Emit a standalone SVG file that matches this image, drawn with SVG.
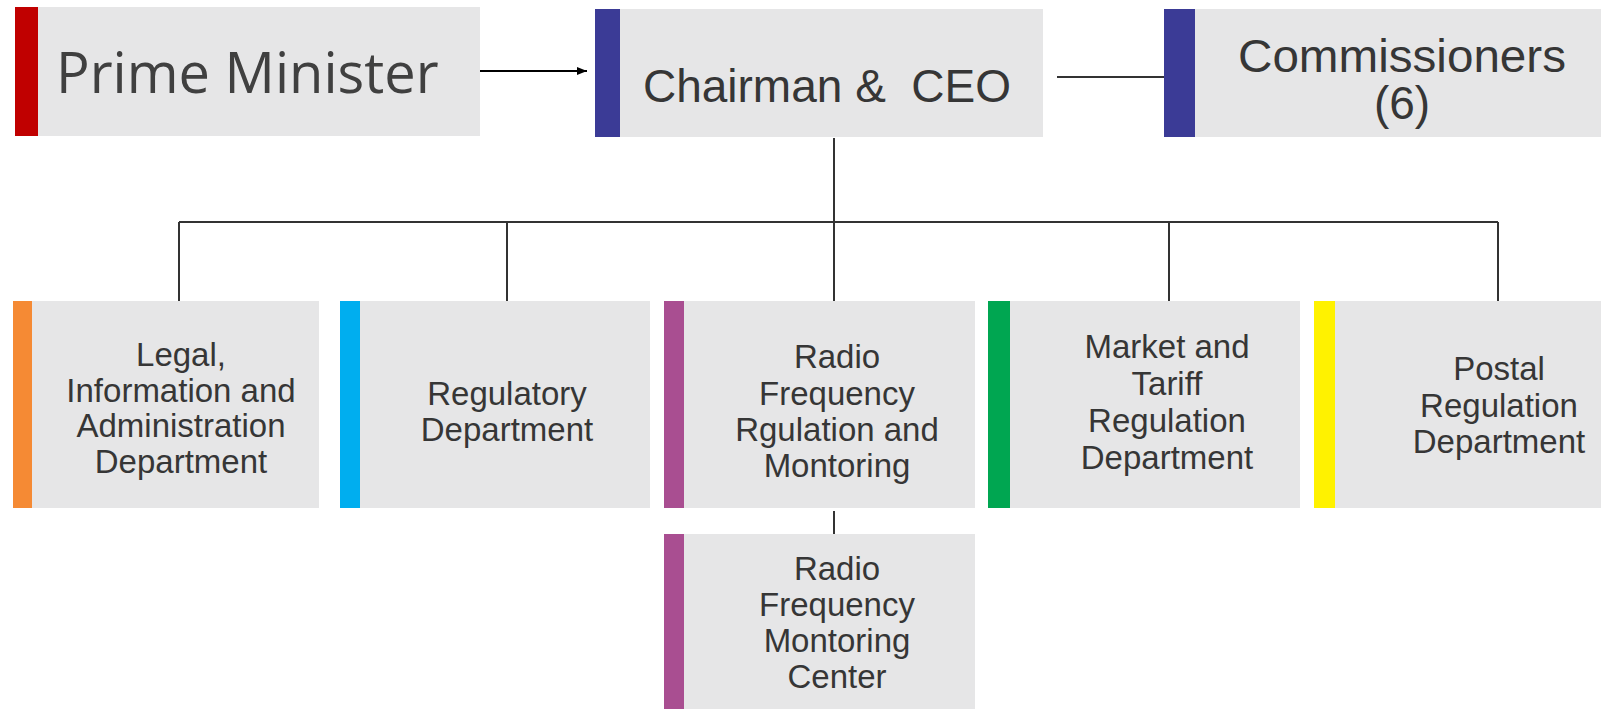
<svg xmlns="http://www.w3.org/2000/svg" width="1601" height="709" viewBox="0 0 1601 709">
<style>
.box{fill:#e6e6e7}
.t{font-family:"Liberation Sans",Arial,sans-serif;font-size:33px;fill:#363636;text-anchor:middle}
.big{font-family:"Liberation Sans",Arial,sans-serif;font-size:46px;fill:#363636;text-anchor:middle}
.ln{stroke:#333;stroke-width:2;fill:none}
</style>
<defs>
<marker id="ah" viewBox="0 0 10 10" refX="10" refY="5" markerWidth="10" markerHeight="10" markerUnits="userSpaceOnUse" orient="auto">
<path d="M0,1 L10,5 L0,9 Z" fill="#000"/>
</marker>
</defs>
<rect width="1601" height="709" fill="#fff"/>
<g id="connectors">
<line x1="480" y1="71" x2="587" y2="71" stroke="#000" stroke-width="2" marker-end="url(#ah)"/>
<line class="ln" x1="1057" y1="77" x2="1164" y2="77"/>
<line class="ln" x1="834" y1="138" x2="834" y2="301"/>
<line class="ln" x1="179" y1="222" x2="1498" y2="222"/>
<line class="ln" x1="179" y1="222" x2="179" y2="301"/>
<line class="ln" x1="507" y1="222" x2="507" y2="301"/>
<line class="ln" x1="1169" y1="222" x2="1169" y2="301"/>
<line class="ln" x1="1498" y1="222" x2="1498" y2="301"/>
<line class="ln" x1="834" y1="511" x2="834" y2="534"/>
</g>
<g id="prime-minister">
<rect class="box" x="15" y="7" width="465" height="129"/>
<rect x="15" y="7" width="23" height="129" fill="#c00000"/>
<text x="56" y="93" font-family="'Open Sans',sans-serif" font-size="56" fill="#404040">Prime Minister</text>
</g>
<g id="chairman">
<rect class="box" x="595" y="9" width="448" height="128"/>
<rect x="595" y="9" width="25" height="128" fill="#3b3b96"/>
<text class="big" x="827" y="102" xml:space="preserve">Chairman &amp;  CEO</text>
</g>
<g id="commissioners">
<rect class="box" x="1164" y="9" width="437" height="128"/>
<rect x="1164" y="9" width="31" height="128" fill="#3b3b96"/>
<text class="big" x="1402" y="72" font-size="38" textLength="328" lengthAdjust="spacingAndGlyphs">Commissioners</text>
<text class="big" x="1402" y="119" font-size="38">(6)</text>
</g>
<g id="legal">
<rect class="box" x="13" y="301" width="306" height="207"/>
<rect x="13" y="301" width="19" height="207" fill="#f58a34"/>
<text class="t" x="181" y="366">Legal,</text>
<text class="t" x="181" y="402">Information and</text>
<text class="t" x="181" y="437">Administration</text>
<text class="t" x="181" y="473">Department</text>
</g>
<g id="regulatory">
<rect class="box" x="340" y="301" width="310" height="207"/>
<rect x="340" y="301" width="20" height="207" fill="#00aeef"/>
<text class="t" x="507" y="405">Regulatory</text>
<text class="t" x="507" y="441">Department</text>
</g>
<g id="radio-freq">
<rect class="box" x="664" y="301" width="311" height="207"/>
<rect x="664" y="301" width="20" height="207" fill="#a94e91"/>
<text class="t" x="837" y="368">Radio</text>
<text class="t" x="837" y="405">Frequency</text>
<text class="t" x="837" y="441">Rgulation and</text>
<text class="t" x="837" y="477">Montoring</text>
</g>
<g id="market">
<rect class="box" x="988" y="301" width="312" height="207"/>
<rect x="988" y="301" width="22" height="207" fill="#00a651"/>
<text class="t" x="1167" y="358">Market and</text>
<text class="t" x="1167" y="395">Tariff</text>
<text class="t" x="1167" y="432">Regulation</text>
<text class="t" x="1167" y="469">Department</text>
</g>
<g id="postal">
<rect class="box" x="1314" y="301" width="287" height="207"/>
<rect x="1314" y="301" width="21" height="207" fill="#fff200"/>
<text class="t" x="1499" y="380">Postal</text>
<text class="t" x="1499" y="417">Regulation</text>
<text class="t" x="1499" y="453">Department</text>
</g>
<g id="rf-center">
<rect class="box" x="664" y="534" width="311" height="175"/>
<rect x="664" y="534" width="20" height="175" fill="#a94e91"/>
<text class="t" x="837" y="580">Radio</text>
<text class="t" x="837" y="616">Frequency</text>
<text class="t" x="837" y="652">Montoring</text>
<text class="t" x="837" y="688">Center</text>
</g>
</svg>
